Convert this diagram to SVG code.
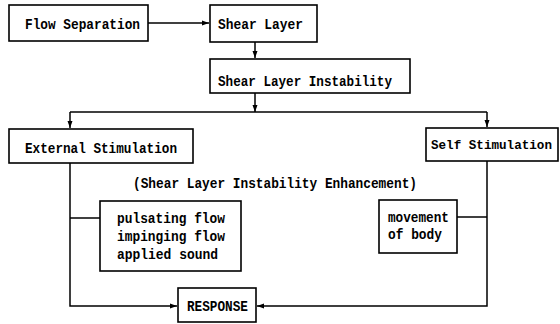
<svg xmlns="http://www.w3.org/2000/svg" width="560" height="324" viewBox="0 0 560 324">
<style>
.box{fill:#fff;stroke:#000;stroke-width:1.6}
.t{font-family:"Liberation Mono","DejaVu Sans Mono",monospace;font-weight:bold;font-size:15px;fill:#000}
.c{fill:none;stroke:#000;stroke-width:1.5}
</style>
<defs>
<marker id="ah" markerUnits="userSpaceOnUse" markerWidth="7" markerHeight="6" refX="7" refY="3" orient="auto">
<path d="M0,0.5 L7,3 L0,5.5 Z" fill="#000"/>
</marker>
</defs>
<rect width="560" height="324" fill="#fff"/>
<g id="connectors">
<path class="c" d="M148,23 H209" marker-end="url(#ah)"/>
<path class="c" d="M255,42 V58" marker-end="url(#ah)"/>
<path class="c" d="M255,93 V112" marker-end="url(#ah)"/>
<path class="c" d="M70,112 H487"/>
<path class="c" d="M70,112 V128" marker-end="url(#ah)"/>
<path class="c" d="M487,112 V127" marker-end="url(#ah)"/>
<path class="c" d="M70,163 V306 H177" marker-end="url(#ah)"/>
<path class="c" d="M70,218 H100"/>
<path class="c" d="M487,161 V306 H257" marker-end="url(#ah)"/>
<path class="c" d="M457,217 H487"/>
</g>
<g id="flow-separation">
<rect class="box" x="9" y="5" width="139" height="36"/>
<text class="t" x="25" y="29" textLength="115" lengthAdjust="spacingAndGlyphs">Flow Separation</text>
</g>
<g id="shear-layer">
<rect class="box" x="210" y="5" width="107" height="37"/>
<text class="t" x="218" y="29" textLength="85" lengthAdjust="spacingAndGlyphs">Shear Layer</text>
</g>
<g id="shear-layer-instability">
<rect class="box" x="210" y="59" width="200" height="34"/>
<text class="t" x="218" y="86" textLength="174" lengthAdjust="spacingAndGlyphs">Shear Layer Instability</text>
</g>
<g id="external-stimulation">
<rect class="box" x="9" y="129" width="184" height="34"/>
<text class="t" x="25" y="153" textLength="152" lengthAdjust="spacingAndGlyphs">External Stimulation</text>
</g>
<g id="self-stimulation">
<rect class="box" x="426" y="128" width="132" height="33"/>
<text class="t" x="431" y="149" style="font-size:12.8px" textLength="121" lengthAdjust="spacingAndGlyphs">Self Stimulation</text>
</g>
<g id="enhancement-label">
<text class="t" x="133" y="188" textLength="284" lengthAdjust="spacingAndGlyphs">(Shear Layer Instability Enhancement)</text>
</g>
<g id="external-methods">
<rect class="box" x="100" y="201" width="141" height="70"/>
<text class="t" x="117" y="223" textLength="108" lengthAdjust="spacingAndGlyphs">pulsating flow</text>
<text class="t" x="117" y="241" textLength="108" lengthAdjust="spacingAndGlyphs">impinging flow</text>
<text class="t" x="117" y="259" textLength="101" lengthAdjust="spacingAndGlyphs">applied sound</text>
</g>
<g id="movement-of-body">
<rect class="box" x="379" y="200" width="78" height="53"/>
<text class="t" x="388" y="222" textLength="61" lengthAdjust="spacingAndGlyphs">movement</text>
<text class="t" x="388" y="239" textLength="54" lengthAdjust="spacingAndGlyphs">of body</text>
</g>
<g id="response">
<rect class="box" x="178" y="288" width="78" height="34"/>
<text class="t" x="187" y="311" textLength="61" lengthAdjust="spacingAndGlyphs">RESPONSE</text>
</g>
</svg>
